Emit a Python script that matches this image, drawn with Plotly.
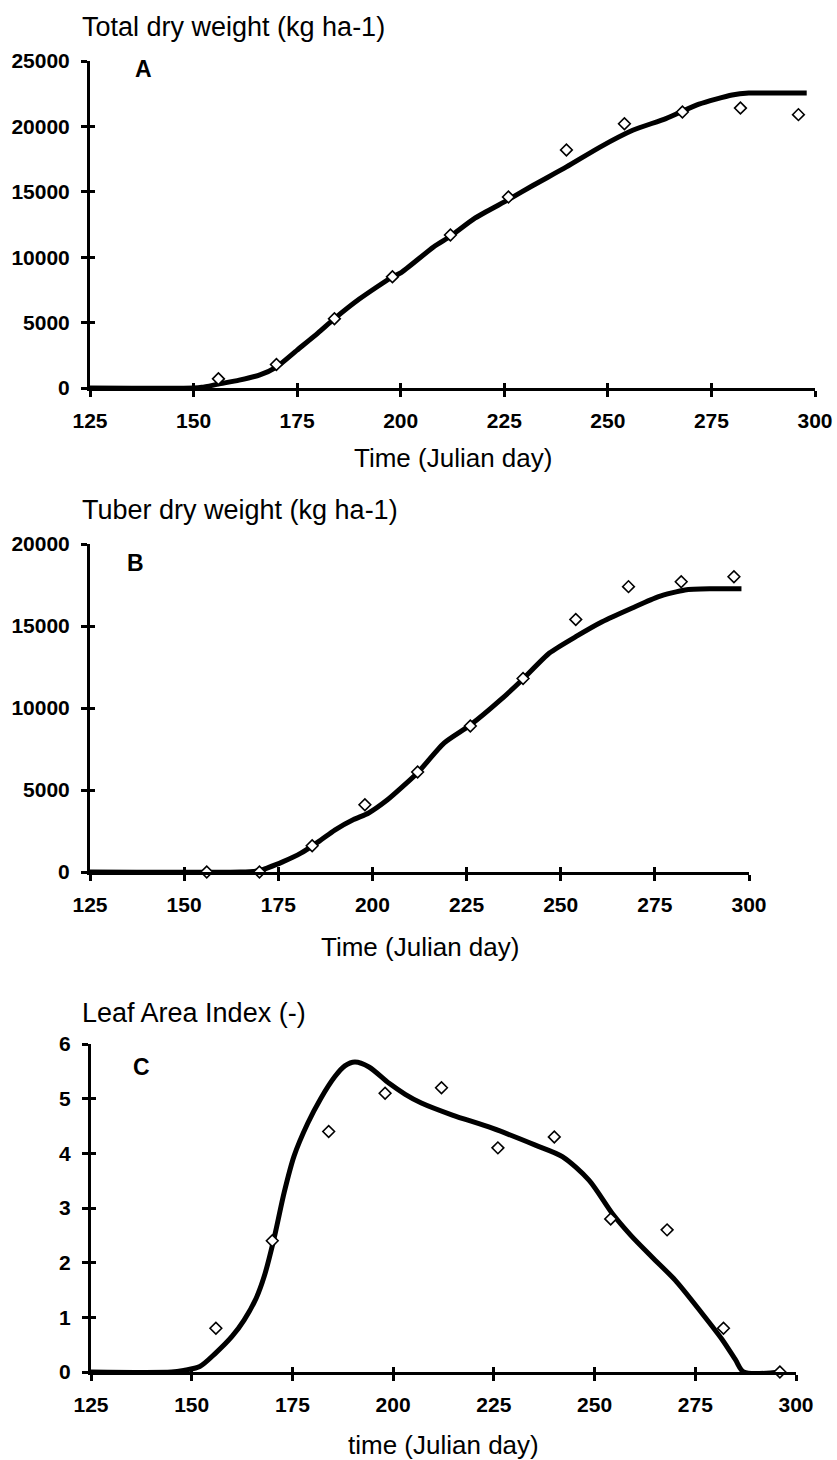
import plotly.graph_objects as go

# ---------------- data ----------------
obs_days = [156, 170, 184, 198, 212, 226, 240, 254, 268, 282, 296]
total_obs = [700, 1800, 5300, 8500, 11700, 14600, 18200, 20200, 21100, 21400, 20900]
tuber_obs = [0, 0, 1600, 4100, 6100, 8900, 11800, 15400, 17400, 17700, 18000]
lai_obs = [0.8, 2.4, 4.4, 5.1, 5.2, 4.1, 4.3, 2.8, 2.6, 0.8, 0]

total_sim_days = [125, 150, 152, 156, 161, 166, 170, 175, 180, 184, 190, 198, 200, 208, 212,
                  218, 226, 232, 240, 248, 256, 264, 272, 280, 284, 290, 298]
total_sim = [0, 0, 50, 300, 600, 1000, 1600, 2900, 4200, 5300, 6800, 8500, 8800, 10800, 11600,
             13000, 14400, 15500, 16900, 18400, 19700, 20600, 21700, 22400, 22550, 22550, 22550]

tuber_sim_days = [125, 165, 170, 172, 176, 181, 186, 190, 195, 199, 204, 208, 212, 219, 226,
                  234, 240, 247, 254, 261, 269, 276, 283, 290, 298]
tuber_sim = [0, 0, 80, 240, 600, 1150, 1900, 2560, 3200, 3600, 4400, 5200, 6050, 7860, 8960,
             10490, 11770, 13350, 14350, 15260, 16100, 16790, 17200, 17270, 17270]

lai_sim_days = [125, 145, 148, 152, 156, 160, 163, 166, 168, 170.3, 173, 175.4, 178.8, 182, 185.5,
                188, 190.5, 194, 199, 203, 207, 214.7, 224.6, 235.3, 242, 248.6, 254.4, 259,
                264.3, 270, 276.7, 281.7, 285, 287, 296]
lai_sim = [0, 0, 0.03, 0.1, 0.35, 0.65, 0.95, 1.35, 1.75, 2.4, 3.3, 3.95, 4.55, 5.0, 5.4,
           5.6, 5.67, 5.58, 5.28, 5.08, 4.92, 4.7, 4.46, 4.15, 3.94, 3.51, 2.9, 2.5,
           2.1, 1.68, 1.07, 0.59, 0.22, 0, 0]

x_ticks = [125, 150, 175, 200, 225, 250, 275, 300]
y_ticks_total = [0, 5000, 10000, 15000, 20000, 25000]
y_ticks_tuber = [0, 5000, 10000, 15000, 20000]
y_ticks_lai = [0, 1, 2, 3, 4, 5, 6]

y_titles = ["Total dry weight (kg ha-1)", "Tuber dry weight (kg ha-1)", "Leaf Area Index (-)"]
x_titles = ["Time (Julian day)", "Time (Julian day)", "time (Julian day)"]
panel_letters = ["A", "B", "C"]

# ---------------- layout geometry ----------------
W, H = 837, 1460
FONT = "Liberation Sans, Arial, Helvetica, sans-serif"

def px_x(p):
    return p / W

def px_y(p):
    return 1 - p / H

panels = [
    dict(x0=90, x1=815, y0=61, y1=388, yrange=[0, 25000], yticks=y_ticks_total,
         days=total_sim_days, sim=total_sim, obs=total_obs, ytitle_y=27, xtitle_y=458,
         letter_y=69, letter_x=143, smooth=0.6),
    dict(x0=90, x1=749, y0=544, y1=872, yrange=[0, 20000], yticks=y_ticks_tuber,
         days=tuber_sim_days, sim=tuber_sim, obs=tuber_obs, ytitle_y=510, xtitle_y=947,
         letter_y=563, letter_x=135, smooth=0.6),
    dict(x0=91, x1=796, y0=1044, y1=1372, yrange=[0, 6], yticks=y_ticks_lai,
         days=lai_sim_days, sim=lai_sim, obs=lai_obs, ytitle_y=1013, xtitle_y=1445,
         letter_y=1067, letter_x=141, smooth=0.8),
]

fig = go.Figure()
layout = dict(
    width=W, height=H,
    template="none",
    margin=dict(l=0, r=0, t=0, b=0, pad=0),
    paper_bgcolor="white", plot_bgcolor="white",
    showlegend=False,
    font=dict(family=FONT, color="black"),
    annotations=[],
)

for i, p in enumerate(panels):
    n = i + 1
    xa = "x" if n == 1 else f"x{n}"
    ya = "y" if n == 1 else f"y{n}"
    on = n + 3  # overlay axis index
    xdom = [px_x(p["x0"]), px_x(p["x1"])]
    ydom = [px_y(p["y1"]), px_y(p["y0"])]

    fig.add_trace(go.Scatter(x=p["days"], y=p["sim"], mode="lines",
                             line=dict(color="black", width=5, shape="spline", smoothing=p["smooth"]),
                             xaxis=xa, yaxis=ya, cliponaxis=False, hoverinfo="skip"))
    fig.add_trace(go.Scatter(x=obs_days, y=p["obs"], mode="markers",
                             marker=dict(symbol="diamond", size=9, color="white",
                                         line=dict(color="black", width=1.6)),
                             xaxis=xa, yaxis=ya, cliponaxis=False))
    # empty trace for inside-tick overlay axes
    fig.add_trace(go.Scatter(x=[None], y=[None], mode="markers", xaxis=f"x{on}", yaxis=f"y{on}"))

    common_x = dict(range=[125, 300], tickvals=x_ticks, showgrid=False, zeroline=False, automargin=False)
    common_y = dict(range=p["yrange"], tickvals=p["yticks"], showgrid=False, zeroline=False, automargin=False)

    layout["xaxis" if n == 1 else f"xaxis{n}"] = dict(
        domain=xdom, anchor=ya, showline=True, linecolor="black", linewidth=3,
        ticks="outside", ticklen=6, tickwidth=2.5, tickcolor="black",
        ticktext=[str(v) for v in x_ticks],
        tickfont=dict(size=21, family=FONT, weight="bold", color="black"),
        ticklabelstandoff=6, **common_x)
    layout["yaxis" if n == 1 else f"yaxis{n}"] = dict(
        domain=ydom, anchor=xa, showline=True, linecolor="black", linewidth=3,
        ticks="outside", ticklen=6, tickwidth=2.5, tickcolor="black",
        ticktext=[str(v) for v in p["yticks"]],
        tickfont=dict(size=21, family=FONT, weight="bold", color="black"),
        ticklabelstandoff=7, **common_y)
    layout[f"xaxis{on}"] = dict(
        domain=xdom, anchor=f"y{on}", overlaying=xa, showline=False,
        ticks="inside", ticklen=5, tickwidth=2.5, tickcolor="black", showticklabels=False,
        **common_x)
    layout[f"yaxis{on}"] = dict(
        domain=ydom, anchor=f"x{on}", overlaying=ya, showline=False,
        ticks="inside", ticklen=5, tickwidth=2.5, tickcolor="black", showticklabels=False,
        **common_y)

    layout["annotations"] += [
        dict(text=y_titles[i], xref="paper", yref="paper", x=px_x(80), y=px_y(p["ytitle_y"]),
             xanchor="left", yanchor="middle", showarrow=False,
             font=dict(size=27, family=FONT, color="black")),
        dict(text=x_titles[i], xref=f"{xa} domain", yref="paper", x=0.5, y=px_y(p["xtitle_y"]),
             xanchor="center", yanchor="middle", showarrow=False,
             font=dict(size=26, family=FONT, color="black")),
        dict(text=panel_letters[i], xref="paper", yref="paper", x=px_x(p["letter_x"]), y=px_y(p["letter_y"]),
             xanchor="center", yanchor="middle", showarrow=False,
             font=dict(size=23, family=FONT, weight="bold", color="black")),
    ]

fig.update_layout(**layout)
fig.write_html("out.html")
